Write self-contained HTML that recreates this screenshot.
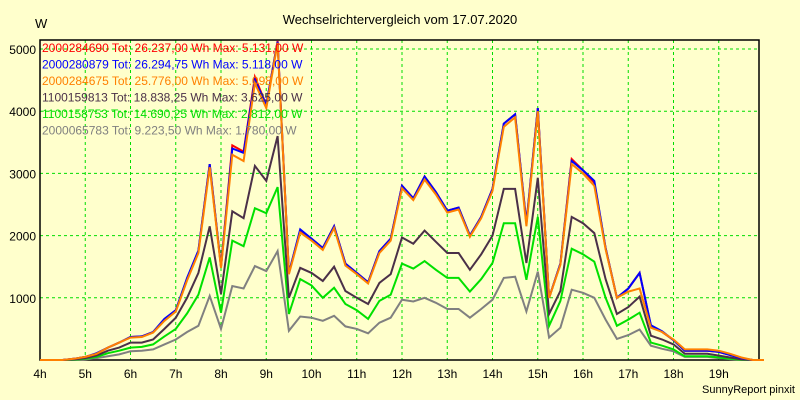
<!DOCTYPE html>
<html><head><meta charset="utf-8"><style>
body{margin:0;background:#FFFFCC;}
svg{display:block;font-family:"Liberation Sans",sans-serif;}
</style></head><body>
<svg id="chart" width="800" height="400" viewBox="0 0 800 400">
<rect x="0" y="0" width="800" height="400" fill="#FFFFCC"/>
<text x="400" y="24" text-anchor="middle" font-size="13" fill="#000">Wechselrichtervergleich vom 17.07.2020</text>
<text x="35" y="28" font-size="13" fill="#000">W</text>
<text x="795" y="393" text-anchor="end" font-size="11" fill="#000">SunnyReport pinxit</text>
<g id="grid"></g>
<g id="axes"></g>
<g id="series"></g>
<g id="legend"></g>
</svg>
<script>
const hourTicks = [4,5,6,7,8,9,10,11,12,13,14,15,16,17,18,19];
const yTicks = [1000,2000,3000,4000,5000];
const startHour = 4;
const stepHours = 0.25;
const red = [0,0,0,20,50,100,200,280,370,380,450,650,800,1300,1750,3150,1500,3450,3350,4550,4100,5130,1400,2080,1950,1800,2150,1550,1400,1250,1750,1950,2800,2600,2950,2700,2400,2450,2000,2300,2750,3800,3950,2200,4050,1000,1550,3230,3050,2850,1800,1000,1150,1400,550,450,320,150,150,150,130,80,30,0,0];
const blue = [0,0,0,20,50,110,200,280,370,380,450,660,800,1320,1760,3150,1500,3400,3330,4500,4100,5118,1400,2100,1950,1800,2150,1550,1400,1250,1750,1950,2800,2600,2950,2700,2400,2450,2000,2300,2750,3800,3950,2200,4050,1000,1550,3200,3050,2880,1800,1000,1150,1400,560,460,320,150,150,150,130,80,30,0,0];
const orange = [0,0,0,20,50,100,200,280,360,370,440,630,780,1280,1720,3100,1480,3300,3200,4450,4050,5098,1380,2050,1920,1770,2120,1520,1380,1230,1720,1920,2760,2570,2900,2660,2370,2420,1980,2280,2720,3750,3900,2150,4000,1000,1530,3150,3000,2800,1780,1000,1100,1150,520,450,330,170,170,170,150,100,40,0,0];
const dark = [0,0,0,10,30,70,150,200,280,280,330,500,680,1000,1400,2150,1060,2390,2280,3120,2880,3600,1000,1480,1400,1270,1500,1110,1000,900,1240,1380,1970,1870,2080,1900,1720,1720,1450,1700,2000,2750,2750,1560,2930,740,1110,2300,2200,2040,1300,740,850,1020,390,330,250,100,100,100,70,40,10,0,0];
const green = [0,0,0,5,20,50,110,150,200,210,250,380,500,750,1050,1650,760,1920,1830,2440,2360,2780,740,1300,1200,1000,1160,900,800,660,950,1050,1550,1470,1590,1450,1320,1320,1100,1300,1560,2200,2200,1290,2300,550,950,1790,1700,1580,1000,550,650,760,280,230,170,60,60,60,40,20,5,0,0];
const gray = [0,0,0,0,10,30,60,90,140,150,170,250,330,450,550,1030,500,1190,1150,1510,1430,1750,470,700,680,630,710,540,500,430,600,680,970,940,1000,920,820,820,680,820,970,1320,1340,780,1420,360,520,1130,1080,1000,650,340,400,490,230,180,140,50,50,50,30,15,5,0,0];
const legendLabels = ["2000284690 Tot: 26.237,00 Wh Max: 5.131,00 W","2000280879 Tot: 26.294,75 Wh Max: 5.118,00 W","2000284675 Tot: 25.776,00 Wh Max: 5.098,00 W","1100159813 Tot: 18.838,25 Wh Max: 3.625,00 W","1100158753 Tot: 14.690,25 Wh Max: 2.812,00 W","2000065783 Tot: 9.223,50 Wh Max: 1.780,00 W"];

const NS="http://www.w3.org/2000/svg";
const L=40,R=759,T=40,B=360,hourW=45.25,per1000=62.2;
function xs(h){return L+(h-startHour)*hourW;}
function ys(v){return B-v/1000*per1000;}
function mk(tag,attrs,parent){const e=document.createElementNS(NS,tag);for(const k in attrs)e.setAttribute(k,attrs[k]);parent.appendChild(e);return e;}
const grid=document.getElementById('grid'),axes=document.getElementById('axes'),ser=document.getElementById('series'),leg=document.getElementById('legend');
hourTicks.forEach(h=>{
  if(h>startHour){const g=mk('line',{x1:xs(h),x2:xs(h),y1:T,y2:B,stroke:'#00DD00','stroke-width':1,'stroke-dasharray':'3,3'},grid);
  
  }
  const t=mk('text',{x:xs(h),y:378,'text-anchor':'middle','font-size':12,fill:'#000'},axes);
  t.textContent=h+'h';
  
  
});
yTicks.forEach(v=>{
  const g=mk('line',{x1:L,x2:R,y1:ys(v),y2:ys(v),stroke:'#00DD00','stroke-width':1,'stroke-dasharray':'3,3'},grid);
  
  
  const t=mk('text',{x:36,y:ys(v)+5,'text-anchor':'end','font-size':12,fill:'#000'},axes);
  t.textContent=String(v);
  
  
});
const frame=mk('rect',{x:L,y:T,width:R-L,height:B-T,fill:'none',stroke:'#000','stroke-width':1.5},axes);


const seriesList=[[gray,'#808080','series-2000065783'],[green,'#00E000','series-1100158753'],[dark,'#4A3048','series-1100159813'],[red,'#FF0000','series-2000284690'],[blue,'#0000FF','series-2000280879'],[orange,'#FF8000','series-2000284675']];
seriesList.forEach(s=>{
  const pts=s[0].map((v,i)=>xs(startHour+i*stepHours).toFixed(1)+','+ys(v).toFixed(1)).join(' ');
  const p=mk('polyline',{points:pts,fill:'none',stroke:s[1],'stroke-width':2,'stroke-linejoin':'miter'},ser);
  
  
});
const legColors=['#FF0000','#0000FF','#FF8000','#4A3048','#00DD00','#808080'];
legendLabels.forEach((lab,i)=>{
  const t=mk('text',{x:42,y:52+i*16.5,'font-size':12,fill:legColors[i]},leg);
  t.textContent=lab;
  
  
});
</script>
</body></html>
